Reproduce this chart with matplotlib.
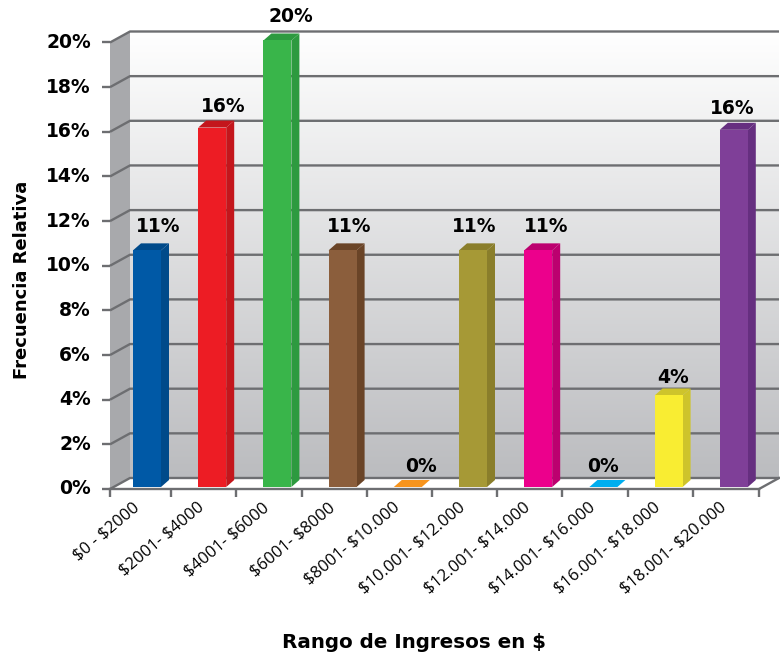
import numpy as np
import matplotlib
matplotlib.use("Agg")
import matplotlib.pyplot as plt
from matplotlib.patches import Polygon
from matplotlib.transforms import Affine2D

rangos = ["$0 - $2000", "$2001- $4000", "$4001- $6000", "$6001- $8000", "$8001- $10.000",
          "$10.001- $12.000", "$12.001- $14.000", "$14.001- $16.000", "$16.001- $18.000",
          "$18.001- $20.000"]
frecuencia = [10.6, 16.1, 20.0, 10.6, 0.0, 10.6, 10.6, 0.0, 4.1, 16.0]
y_ticks = [0, 2, 4, 6, 8, 10, 12, 14, 16, 18, 20]

color_front = ["#0059a6", "#ed1c24", "#39b54a", "#8b5e3c", "#f7941d",
               "#a69936", "#ec008c", "#00aeef", "#f9ed32", "#7f3f98"]
color_side = ["#004a8a", "#c4161c", "#2d9a3f", "#6a4427", "#f7941d",
              "#8a7e2b", "#bc006f", "#00aeef", "#cec42b", "#662f80"]

# hand placement of the value labels, in pixels from the bar's top centre
label_dx = [11, 11, 13, 7, 13, 1, 8, 0, 4, -2]
label_dy = [14.5, 11.5, 14.5, 14.5, 11.5, 14.5, 14.5, 11.5, 8.5, 11.5]

W, H = 780, 656
GREY = "#6d6e71"
FONT = "Open Sans"
FONT_BOLD = "DejaVu Sans"

# pixel layout of the front plane
PX_LEFT, PX_RIGHT = 110, 759
PX_ZERO, PX_TOP = 489, 42.5
PX_PER_BAR = 65.2
PX_FIRST_BAR = 147

fig = plt.figure(figsize=(W / 100, H / 100), dpi=100, facecolor="white")
ax = fig.add_axes([PX_LEFT / W, 1 - PX_ZERO / H, (PX_RIGHT - PX_LEFT) / W, (PX_ZERO - PX_TOP) / H])
ax.patch.set_alpha(0)

x_min = (PX_LEFT - PX_FIRST_BAR) / PX_PER_BAR
x_max = (PX_RIGHT - PX_FIRST_BAR) / PX_PER_BAR
px_y = (PX_ZERO - PX_TOP) / 20

# depth of the box and of the bars, in data units
wall_dx, wall_dy = 20 / PX_PER_BAR, 11 / px_y
bar_dx, bar_dy = 8 / PX_PER_BAR, 7 / px_y
bar_w = 28 / PX_PER_BAR

# back wall with vertical gradient
grad = np.linspace(0, 1, 256).reshape(-1, 1)
cmap = matplotlib.colors.LinearSegmentedColormap.from_list("pared", ["#ffffff", "#bbbcbf"])
ax.imshow(grad, cmap=cmap, aspect="auto", zorder=0, clip_on=False, origin="upper",
          extent=[x_min + wall_dx, x_max + wall_dx, wall_dy, 20 + wall_dy])

# left wall
ax.add_patch(Polygon([(x_min, 0), (x_min + wall_dx, wall_dy), (x_min + wall_dx, 20 + wall_dy), (x_min, 20)],
                     closed=True, fc="#a8a9ac", ec="none", zorder=1, clip_on=False))

# grid lines: slanted on the left wall, flat on the back wall
for t in y_ticks:
    ax.plot([x_min, x_min + wall_dx, x_max + wall_dx], [t, t + wall_dy, t + wall_dy],
            color=GREY, lw=1.7, zorder=2, clip_on=False, solid_capstyle="butt", solid_joinstyle="round")
ax.plot([x_max, x_max + wall_dx], [0, wall_dy], color=GREY, lw=1.7, zorder=2, clip_on=False)

# bars sit slightly above the axis line
up = Affine2D().translate(0, 2)
bar_trans = ax.transData + up
xs = np.arange(len(frecuencia))
ax.bar(xs, frecuencia, width=bar_w, color=color_front, linewidth=0, zorder=4, transform=bar_trans, clip_on=False)

for i, v in enumerate(frecuencia):
    x0, x1 = i - bar_w / 2, i + bar_w / 2
    side = Polygon([(x1, 0), (x1 + bar_dx, bar_dy), (x1 + bar_dx, v + bar_dy), (x1, v)],
                   closed=True, fc=color_side[i], ec="none", zorder=3, transform=bar_trans, clip_on=False)
    top = Polygon([(x0, v), (x0 + bar_dx, v + bar_dy), (x1 + bar_dx, v + bar_dy), (x1, v)],
                  closed=True, fc=color_side[i], ec="none", zorder=3, transform=bar_trans, clip_on=False)
    ax.add_patch(side)
    ax.add_patch(top)
    ax.annotate(f"{v:.0f}%", (i, v), xytext=(label_dx[i], label_dy[i]), textcoords="offset pixels",
                ha="center", va="bottom", fontsize=13.5, fontweight="bold", family=FONT_BOLD, color="black",
                zorder=6, annotation_clip=False, xycoords=bar_trans)

ax.set_xlim(x_min, x_max)
ax.set_ylim(0, 20)

# tick marks on the category borders, labels under the bars
ax.set_xticks(xs, [r.replace("$", r"\$") for r in rangos], rotation=40, ha="right", rotation_mode="anchor",
              family=FONT, fontsize=12)
ax.set_xticks([x_min] + [k + 0.37 for k in range(9)] + [x_max], minor=True)
ax.tick_params(axis="x", which="major", length=0, pad=9)
ax.tick_params(axis="x", which="minor", length=5.8, width=1.7, color=GREY)
ax.set_yticks(y_ticks, [f"{t}%" for t in y_ticks], family=FONT_BOLD, fontsize=13.5, fontweight="bold")
ax.tick_params(axis="y", length=5.8, width=1.7, color=GREY, pad=8)

# nudge the tick labels away from their default anchors
for lab in ax.get_xticklabels():
    lab.set_transform(lab.get_transform() + Affine2D().translate(-15, 2))
for lab in ax.get_yticklabels():
    lab.set_transform(lab.get_transform() + Affine2D().translate(0, 2))

for name in ["top", "right", "left"]:
    ax.spines[name].set_visible(False)
ax.spines["bottom"].set_color(GREY)
ax.spines["bottom"].set_linewidth(1.7)
ax.spines["bottom"].set_zorder(5)

fig.text(414 / W, 1 - 642 / H, r"Rango de Ingresos en \$", ha="center", va="center",
         fontsize=14.3, fontweight="bold", family=FONT_BOLD)
fig.text(22 / W, 1 - 280 / H, "Frecuencia Relativa", ha="center", va="center", rotation=90,
         fontsize=13, fontweight="bold", family=FONT_BOLD)

fig.savefig("out.png", dpi=100)
